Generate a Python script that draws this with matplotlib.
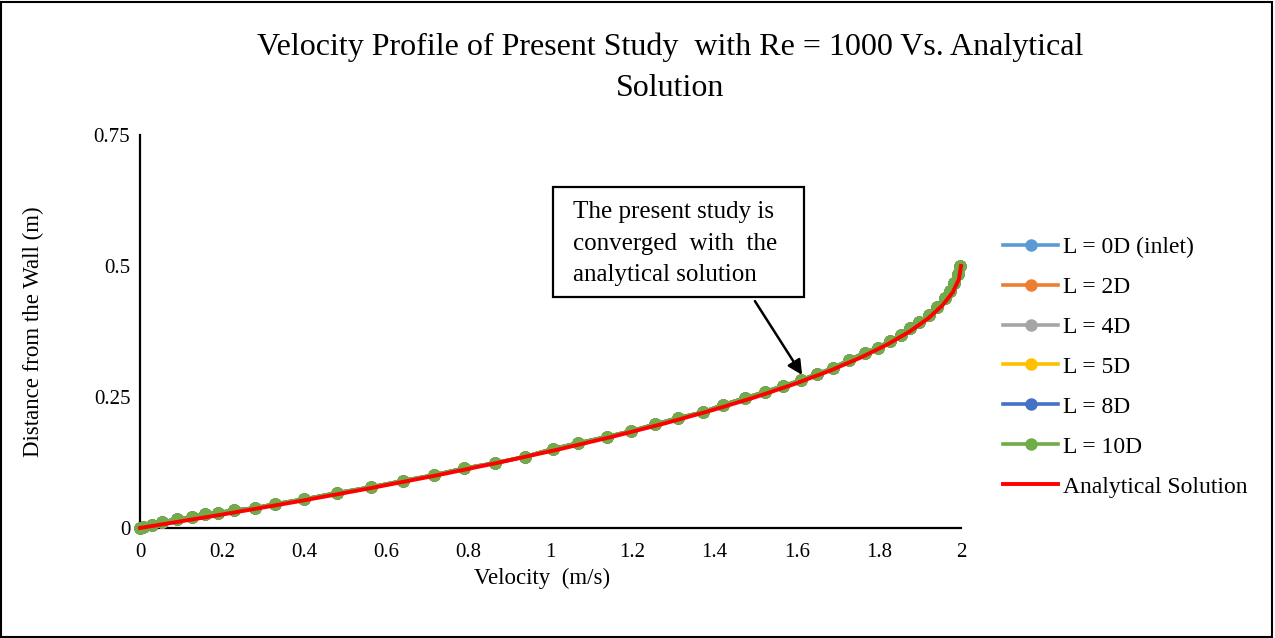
import matplotlib
matplotlib.use("Agg")
import matplotlib.pyplot as plt
from matplotlib.patches import Rectangle

plt.rcParams['font.family'] = ['Liberation Serif', 'DejaVu Serif']

# ---- data ----
series_labels = ["L = 0D (inlet)", "L = 2D", "L = 4D", "L = 5D", "L = 8D", "L = 10D"]
series_colors = ["#5B9BD5", "#ED7D31", "#A5A5A5", "#FFC000", "#4472C4", "#70AD47"]

velocity = [0.0, 0.007, 0.03, 0.054, 0.09, 0.127, 0.158, 0.19, 0.23, 0.28, 0.33,
            0.40, 0.48, 0.563, 0.64, 0.716, 0.79, 0.865, 0.938, 1.006, 1.067,
            1.137, 1.196, 1.255, 1.311, 1.371, 1.420, 1.474, 1.523, 1.566, 1.610,
            1.649, 1.688, 1.728, 1.765, 1.798, 1.826, 1.853, 1.876, 1.898, 1.921,
            1.942, 1.962, 1.972, 1.984, 1.993, 1.998]
distance = [0.0, 0.002, 0.006, 0.011, 0.017, 0.021, 0.027, 0.029, 0.034, 0.038, 0.046,
            0.055, 0.067, 0.078, 0.090, 0.101, 0.114, 0.124, 0.136, 0.151, 0.162,
            0.174, 0.185, 0.198, 0.210, 0.221, 0.235, 0.248, 0.260, 0.271, 0.282,
            0.294, 0.305, 0.321, 0.334, 0.344, 0.357, 0.368, 0.382, 0.393, 0.406,
            0.422, 0.439, 0.452, 0.468, 0.484, 0.500]

analytic_velocity = [0.0, 0.195, 0.38, 0.555, 0.72, 0.875, 1.02, 1.155, 1.28, 1.395, 1.5,
                     1.595, 1.68, 1.755, 1.82, 1.875, 1.92, 1.955, 1.98, 1.995, 2.0]
analytic_distance = [0.0, 0.025, 0.05, 0.075, 0.1, 0.125, 0.15, 0.175, 0.2, 0.225, 0.25,
                     0.275, 0.3, 0.325, 0.35, 0.375, 0.4, 0.425, 0.45, 0.475, 0.5]

x_ticks = [0, 0.2, 0.4, 0.6, 0.8, 1.0, 1.2, 1.4, 1.6, 1.8, 2.0]
x_tick_labels = ["0", "0.2", "0.4", "0.6", "0.8", "1", "1.2", "1.4", "1.6", "1.8", "2"]
y_ticks = [0, 0.25, 0.5, 0.75]
y_tick_labels = ["0", "0.25", "0.5", "0.75"]

W, H = 1275, 638
fig = plt.figure(figsize=(W / 100, H / 100), dpi=100)
ax = fig.add_axes([140 / W, 1 - 528 / H, (961 - 140) / W, (528 - 135) / H])

for lab, col in zip(series_labels, series_colors):
    ax.plot(velocity, distance, color=col, lw=2.6, marker='o', markersize=9,
            markeredgewidth=0, label=lab, clip_on=False, zorder=3)
ax.plot(analytic_velocity, analytic_distance, color="#FF0000", lw=2.8,
        label="Analytical Solution", clip_on=False, zorder=4)

ax.set_xlim(0, 2)
ax.set_ylim(0, 0.75)
ax.set_xticks(x_ticks)
ax.set_xticklabels(x_tick_labels)
ax.set_yticks(y_ticks)
ax.set_yticklabels(y_tick_labels)
ax.tick_params(axis='both', length=0, labelsize=15)
ax.tick_params(axis='x', pad=11)
ax.tick_params(axis='y', pad=7)
for s in ['top', 'right']:
    ax.spines[s].set_visible(False)
for s in ['left', 'bottom']:
    ax.spines[s].set_linewidth(1.6)
    ax.spines[s].set_color('black')

ax.set_xlabel("Velocity  (m/s)", fontsize=16.5)
ax.xaxis.set_label_coords(0.49, (528 - 568) / (528 - 135))
ax.set_ylabel("Distance from the Wall (m)", fontsize=16.5)
ax.yaxis.set_label_coords((44 - 140) / (961 - 140), 0.5)

fig.text(670 / W, 1 - 47 / H, "Velocity Profile of Present Study  with Re = 1000 Vs. Analytical",
         ha='center', va='center', fontsize=23)
fig.text(670 / W, 1 - 88 / H, "Solution", ha='center', va='center', fontsize=23)

# annotation box
box = Rectangle((553 / W, 1 - 297 / H), (804 - 553) / W, (297 - 187) / H,
                transform=fig.transFigure, facecolor='white', edgecolor='black',
                lw=1.6, zorder=5)
fig.patches.append(box)
for txt, yc in [("The present study is", 212), ("converged  with  the", 244),
                ("analytical solution", 275)]:
    fig.text(573 / W, 1 - yc / H, txt, ha='left', va='center', fontsize=18, zorder=6)
ax.annotate("", xy=(1.613, 0.292), xytext=(1.498, 0.433),
            arrowprops=dict(arrowstyle='-|>', color='black', lw=1.8,
                            mutation_scale=22, shrinkA=0, shrinkB=0),
            annotation_clip=False, zorder=6)

leg = ax.legend(loc='center left', bbox_to_anchor=(1003 / W, 1 - 367 / H),
                bbox_transform=fig.transFigure, frameon=False, fontsize=17,
                handlelength=2.35, handletextpad=0.2, labelspacing=0.78,
                borderpad=0, borderaxespad=0)

# outer figure border
fig.patches.append(Rectangle((0.001, 0.002), 0.997, 0.995, transform=fig.transFigure,
                             fill=False, edgecolor='black', lw=1.5, zorder=10))

fig.savefig("out.png", dpi=100)
